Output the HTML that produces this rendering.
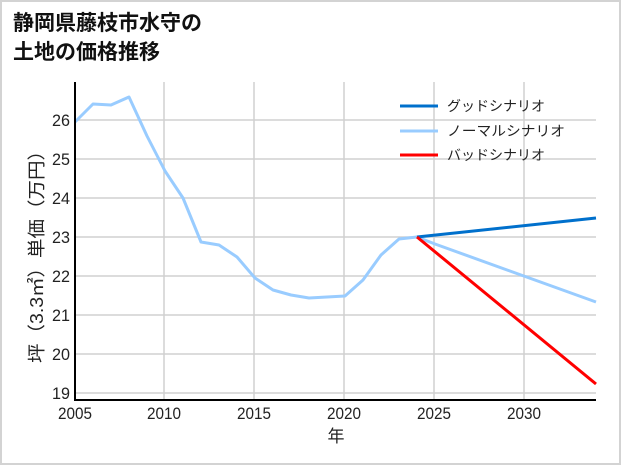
<!DOCTYPE html>
<html><head><meta charset="utf-8"><style>
html,body{margin:0;padding:0;background:#fff;}
body{width:621px;height:465px;overflow:hidden;}
text{font-family:"Liberation Sans","Noto Sans CJK JP",sans-serif;}
</style></head><body>
<svg width="621" height="465" viewBox="0 0 621 465" xmlns="http://www.w3.org/2000/svg">
<rect x="1" y="1" width="619" height="463" fill="#fff" stroke="#d3d3d3" stroke-width="2"/>
<text x="13" y="30" font-size="21" font-weight="bold" fill="#111">静岡県藤枝市水守の</text>
<text x="13" y="59" font-size="21" font-weight="bold" fill="#111">土地の価格推移</text>
<g stroke="#d0d0d0" stroke-width="1.5">
<line x1="164" y1="82" x2="164" y2="400"/><line x1="254" y1="82" x2="254" y2="400"/>
<line x1="344" y1="82" x2="344" y2="400"/><line x1="434" y1="82" x2="434" y2="400"/>
<line x1="524" y1="82" x2="524" y2="400"/>
<line x1="75" y1="393" x2="596" y2="393"/><line x1="75" y1="354" x2="596" y2="354"/>
<line x1="75" y1="315" x2="596" y2="315"/><line x1="75" y1="276" x2="596" y2="276"/>
<line x1="75" y1="237" x2="596" y2="237"/><line x1="75" y1="198" x2="596" y2="198"/>
<line x1="75" y1="159" x2="596" y2="159"/><line x1="75" y1="120" x2="596" y2="120"/>
</g>
<polyline fill="none" stroke="#99ccff" stroke-width="3" stroke-linejoin="round" points="75,122 93,104 111,105 129,97 147,136 165,171 183,198 201,242 219,245 237,257 255,278 273,290 291,295 309,298 327,297 345,296 363,280 381,255 399,239 417,237 435,244 596,302"/>
<line x1="417" y1="237" x2="596" y2="218" stroke="#0070cc" stroke-width="3"/>
<line x1="417" y1="237" x2="596" y2="384" stroke="#ff0000" stroke-width="3"/>
<polyline fill="none" stroke="#000" stroke-width="2" points="75,82 75,400 596,400"/>
<g font-size="17" fill="#222" text-anchor="end">
<text x="70" y="399" textLength="18" lengthAdjust="spacingAndGlyphs">19</text><text x="70" y="360" textLength="18" lengthAdjust="spacingAndGlyphs">20</text><text x="70" y="321" textLength="18" lengthAdjust="spacingAndGlyphs">21</text>
<text x="70" y="282" textLength="18" lengthAdjust="spacingAndGlyphs">22</text><text x="70" y="243" textLength="18" lengthAdjust="spacingAndGlyphs">23</text><text x="70" y="204" textLength="18" lengthAdjust="spacingAndGlyphs">24</text>
<text x="70" y="165" textLength="18" lengthAdjust="spacingAndGlyphs">25</text><text x="70" y="126" textLength="18" lengthAdjust="spacingAndGlyphs">26</text>
</g>
<g font-size="17" fill="#222" text-anchor="middle">
<text x="75" y="419" textLength="34" lengthAdjust="spacingAndGlyphs">2005</text><text x="164" y="419" textLength="34" lengthAdjust="spacingAndGlyphs">2010</text><text x="254" y="419" textLength="34" lengthAdjust="spacingAndGlyphs">2015</text>
<text x="344" y="419" textLength="34" lengthAdjust="spacingAndGlyphs">2020</text><text x="434" y="419" textLength="34" lengthAdjust="spacingAndGlyphs">2025</text><text x="524" y="419" textLength="34" lengthAdjust="spacingAndGlyphs">2030</text>
<text x="336" y="442" font-size="17">年</text>
</g>
<text transform="translate(43,252) rotate(-90)" font-size="18" fill="#222" text-anchor="middle" textLength="222" lengthAdjust="spacingAndGlyphs">坪（3.3㎡）単価（万円）</text>
<g font-size="14" fill="#222">
<line x1="400" y1="106" x2="438" y2="106" stroke="#0070cc" stroke-width="3"/><text x="447" y="111" textLength="98" lengthAdjust="spacingAndGlyphs">グッドシナリオ</text>
<line x1="400" y1="131" x2="438" y2="131" stroke="#99ccff" stroke-width="3"/><text x="447" y="136" textLength="118" lengthAdjust="spacingAndGlyphs">ノーマルシナリオ</text>
<line x1="400" y1="155" x2="438" y2="155" stroke="#ff0000" stroke-width="3"/><text x="447" y="160" textLength="98" lengthAdjust="spacingAndGlyphs">バッドシナリオ</text>
</g>
</svg>
</body></html>
